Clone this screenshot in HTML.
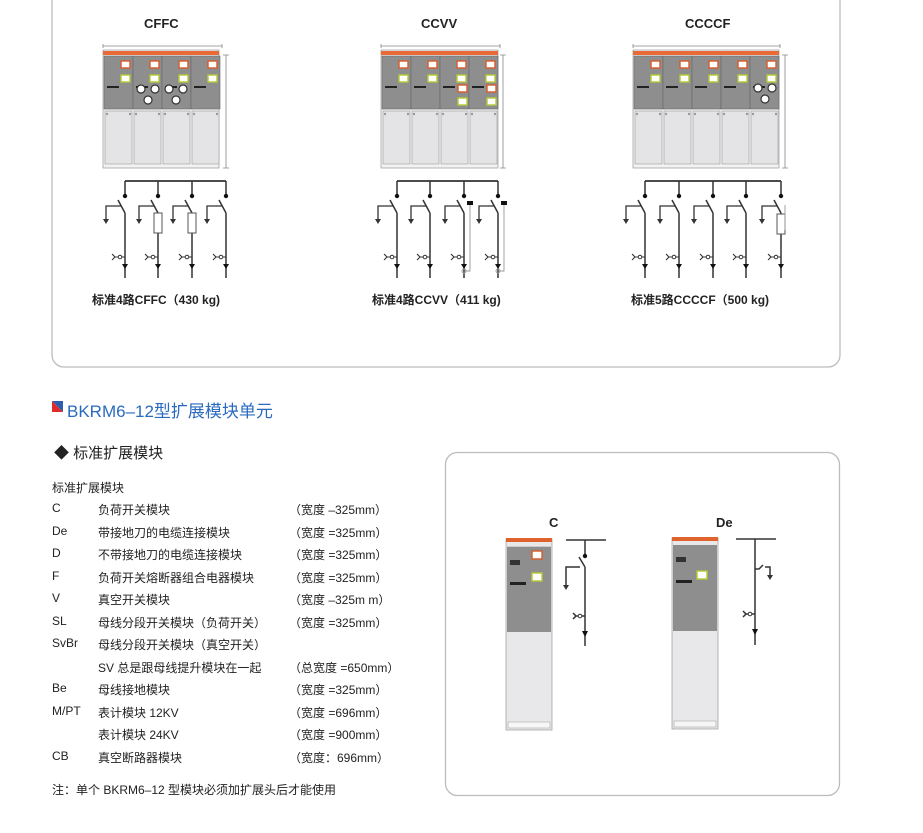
<!DOCTYPE html>
<html><head><meta charset="utf-8">
<style>
body{margin:0;width:923px;height:833px;background:#fff;position:relative;overflow:hidden;font-family:"Liberation Sans","Noto Sans CJK SC",sans-serif;color:#222}
.t{position:absolute;white-space:nowrap}
.b{font-weight:bold}
.r{position:absolute;font-size:12px;white-space:nowrap}
</style></head><body>
<svg width="923" height="833" style="position:absolute;left:0;top:0">
<defs>
<g id="fd" stroke="#333" stroke-width="1.5" fill="none">
<path d="M0,181V196M0,213L-7,200M0,213V278"/>
<circle cx="0" cy="196" r="2.2" fill="#111" stroke="none"/>
<path d="M-4,206H-19V220" stroke-width="1.3"/>
<path d="M-22,219h6l-3,5z" fill="#333" stroke="none"/>
<path d="M-13,254l3,3l-3,3M-10,257H0" stroke-width="1.1"/>
<circle cx="-5" cy="257" r="1.8" fill="#fff" stroke-width="1"/>
<path d="M-3,264h6l-3,5z" fill="#111" stroke="none"/>
</g>
<g id="col">
<rect x="0" y="0" width="29" height="53" fill="#8e8e8e" stroke="#666" stroke-width="0.6"/>
<rect x="1" y="55" width="27" height="53" fill="#e4e4e6" stroke="#999" stroke-width="0.6"/>
<rect x="17" y="5" width="9" height="7" fill="#fff" stroke="#d85a2a" stroke-width="1.4"/>
<rect x="17" y="19" width="9" height="7" fill="#fff" stroke="#b5c934" stroke-width="1.4"/>
<rect x="3" y="30" width="12" height="2" fill="#222"/>
<circle cx="3" cy="58" r="1.2" fill="#999"/><circle cx="26" cy="58" r="1.2" fill="#999"/>
</g>
</defs>
<!-- top box -->
<path d="M52,0V355a12,12 0 0 0 12,12H828a12,12 0 0 0 12,-12V0" fill="none" stroke="#bcbcbc" stroke-width="1.3"/>
<!-- CFFC cabinet -->
<g>
<path d="M103,46H222M103,44v4M222,44v4" stroke="#888" stroke-width="0.8"/>
<path d="M226,55V168M223,55h6M223,168h6" stroke="#888" stroke-width="0.8"/>
<rect x="103" y="50" width="116" height="118" fill="#f2f2f2" stroke="#999" stroke-width="0.7"/>
<rect x="103" y="51" width="116" height="4" fill="#ea6a35"/>
<use href="#col" x="104" y="56"/><use href="#col" x="133" y="56"/><use href="#col" x="162" y="56"/><use href="#col" x="191" y="56"/>
<g fill="#fff" stroke="#333" stroke-width="1.2"><circle cx="141" cy="89" r="4"/><circle cx="155" cy="89" r="4"/><circle cx="148" cy="100" r="4"/><circle cx="169" cy="89" r="4"/><circle cx="183" cy="89" r="4"/><circle cx="176" cy="100" r="4"/></g>
</g>
<!-- CCVV cabinet -->
<g>
<path d="M381,46H500M381,44v4M500,44v4" stroke="#888" stroke-width="0.8"/>
<path d="M503,55V168M500,55h6M500,168h6" stroke="#888" stroke-width="0.8"/>
<rect x="381" y="50" width="117" height="118" fill="#f2f2f2" stroke="#999" stroke-width="0.7"/>
<rect x="381" y="51" width="117" height="4" fill="#ea6a35"/>
<use href="#col" x="382" y="56"/><use href="#col" x="411" y="56"/><use href="#col" x="440" y="56"/><use href="#col" x="469" y="56"/>
<rect x="458" y="85" width="9" height="7" fill="#fff" stroke="#d85a2a" stroke-width="1.4"/><rect x="487" y="85" width="9" height="7" fill="#fff" stroke="#d85a2a" stroke-width="1.4"/>
<rect x="458" y="98" width="9" height="7" fill="#fff" stroke="#b5c934" stroke-width="1.4"/><rect x="487" y="98" width="9" height="7" fill="#fff" stroke="#b5c934" stroke-width="1.4"/>
</g>
<!-- CCCCF cabinet -->
<g>
<path d="M633,46H780M633,44v4M780,44v4" stroke="#888" stroke-width="0.8"/>
<path d="M785,55V168M782,55h6M782,168h6" stroke="#888" stroke-width="0.8"/>
<rect x="633" y="50" width="146" height="118" fill="#f2f2f2" stroke="#999" stroke-width="0.7"/>
<rect x="633" y="51" width="146" height="4" fill="#ea6a35"/>
<use href="#col" x="634" y="56"/><use href="#col" x="663" y="56"/><use href="#col" x="692" y="56"/><use href="#col" x="721" y="56"/><use href="#col" x="750" y="56"/>
<g fill="#fff" stroke="#333" stroke-width="1.2"><circle cx="758" cy="88" r="4"/><circle cx="772" cy="88" r="4"/><circle cx="765" cy="99" r="4"/></g>
</g>
<!-- schematics -->
<g stroke="#333" stroke-width="1.8"><path d="M125,181H226M397,181H498M645,181H781"/></g>
<use href="#fd" x="125"/><use href="#fd" x="158"/><use href="#fd" x="192"/><use href="#fd" x="226"/>
<use href="#fd" x="397"/><use href="#fd" x="430"/><use href="#fd" x="464"/><use href="#fd" x="498"/>
<use href="#fd" x="645"/><use href="#fd" x="679"/><use href="#fd" x="713"/><use href="#fd" x="746"/><use href="#fd" x="781"/>
<g fill="#fff" stroke="#555" stroke-width="1"><rect x="154" y="213" width="8" height="20"/><rect x="188" y="213" width="8" height="20"/><rect x="777" y="214" width="8" height="20"/></g>
<g fill="#fff" stroke="none"><rect x="155" y="214" width="6" height="18"/><rect x="189" y="214" width="6" height="18"/><rect x="778" y="215" width="6" height="18"/></g>
<g fill="#111"><rect x="467" y="201" width="6" height="4"/><rect x="501" y="201" width="6" height="4"/></g>
<g stroke="#999" fill="none" stroke-width="0.9"><path d="M470,205V271H465M504,205V271H499M785,205V230"/>
<circle cx="464" cy="271" r="2"/><circle cx="498" cy="271" r="2"/></g>
<!-- right box -->
<rect x="445.5" y="452.5" width="394" height="343" rx="12" fill="none" stroke="#bcbcbc" stroke-width="1.3"/>
<!-- C cabinet -->
<rect x="506" y="539" width="46" height="191" fill="#e8e8ea" stroke="#999" stroke-width="0.7"/>
<rect x="506" y="538" width="46" height="4" fill="#e0622c"/>
<rect x="507" y="546" width="44" height="86" fill="#8e8e8e"/>
<rect x="507" y="546" width="44" height="1" fill="#ccc"/>
<rect x="532" y="551" width="10" height="8" fill="#fff" stroke="#d85a2a" stroke-width="1.4"/>
<rect x="532" y="573" width="10" height="8" fill="#fff" stroke="#b5c934" stroke-width="1.4"/>
<rect x="510" y="560" width="10" height="5" fill="#333"/><rect x="510" y="582" width="16" height="3" fill="#222"/>
<rect x="508" y="722" width="42" height="6" fill="#f6f6f6" stroke="#aaa" stroke-width="0.6"/>
<!-- De cabinet -->
<rect x="672" y="538" width="46" height="191" fill="#e8e8ea" stroke="#999" stroke-width="0.7"/>
<rect x="672" y="537" width="46" height="4" fill="#e0622c"/>
<rect x="673" y="545" width="44" height="86" fill="#8e8e8e"/>
<rect x="697" y="571" width="10" height="8" fill="#fff" stroke="#b5c934" stroke-width="1.4"/>
<rect x="676" y="557" width="10" height="5" fill="#333"/><rect x="676" y="580" width="16" height="3" fill="#222"/>
<rect x="674" y="721" width="42" height="6" fill="#f6f6f6" stroke="#aaa" stroke-width="0.6"/>
<!-- C schematic -->
<g stroke="#333" stroke-width="1.5" fill="none">
<path d="M566,540H606M585,540V556M585,567L579,557M585,567V646"/>
<path d="M580,567H566V585"/><path d="M-13,0" />
<path d="M573,613l3,3l-3,3M576,616H585"/>
</g>
<circle cx="585" cy="556" r="2.2" fill="#111"/>
<path d="M563,585h6l-3,5z" fill="#333"/><circle cx="580" cy="616" r="1.8" fill="#fff" stroke="#333"/>
<path d="M582,631h6l-3,6z" fill="#111"/>
<!-- De schematic -->
<g stroke="#333" stroke-width="1.5" fill="none">
<path d="M736,539H776M755,539V645M755,569h4l4,-4M765,567h5V575"/>
<path d="M743,611l3,3l-3,3M746,614H755"/>
</g>
<path d="M767,575h6l-3,5z" fill="#333"/><circle cx="750" cy="614" r="1.8" fill="#fff" stroke="#333"/>
<path d="M752,629h6l-3,6z" fill="#111"/>
<!-- heading icon -->
<path d="M52,401h11v11z" fill="#2a5fb0"/><path d="M52,412v-11l11,11z" fill="#e02b2b"/>
</svg>

<div class="t b" style="left:144px;top:16px;font-size:13px">CFFC</div>
<div class="t b" style="left:421px;top:16px;font-size:13px">CCVV</div>
<div class="t b" style="left:685px;top:16px;font-size:13px">CCCCF</div>
<div class="t b" style="left:92px;top:291px;font-size:12px">标准4路CFFC（430 kg)</div>
<div class="t b" style="left:372px;top:291px;font-size:12px">标准4路CCVV（411 kg)</div>
<div class="t b" style="left:631px;top:291px;font-size:12px">标准5路CCCCF（500 kg)</div>

<div class="t" style="left:67px;top:397px;font-size:17px;color:#2a6bbf">BKRM6–12型扩展模块单元</div>
<div class="t" style="left:54px;top:442px;font-size:15px">◆ 标准扩展模块</div>

<div class="r" style="left:52px;top:479px">标准扩展模块</div>
<div class="r" style="left:52px;top:501px">C</div><div class="r" style="left:98px;top:501px">负荷开关模块</div><div class="r" style="left:289px;top:501px">（宽度 –325mm）</div>
<div class="r" style="left:52px;top:524px">De</div><div class="r" style="left:98px;top:524px">带接地刀的电缆连接模块</div><div class="r" style="left:289px;top:524px">（宽度 =325mm）</div>
<div class="r" style="left:52px;top:546px">D</div><div class="r" style="left:98px;top:546px">不带接地刀的电缆连接模块</div><div class="r" style="left:289px;top:546px">（宽度 =325mm）</div>
<div class="r" style="left:52px;top:569px">F</div><div class="r" style="left:98px;top:569px">负荷开关熔断器组合电器模块</div><div class="r" style="left:289px;top:569px">（宽度 =325mm）</div>
<div class="r" style="left:52px;top:591px">V</div><div class="r" style="left:98px;top:591px">真空开关模块</div><div class="r" style="left:289px;top:591px">（宽度 –325m m）</div>
<div class="r" style="left:52px;top:614px">SL</div><div class="r" style="left:98px;top:614px">母线分段开关模块（负荷开关）</div><div class="r" style="left:289px;top:614px">（宽度 =325mm）</div>
<div class="r" style="left:52px;top:636px">SvBr</div><div class="r" style="left:98px;top:636px">母线分段开关模块（真空开关）</div>
<div class="r" style="left:98px;top:659px">SV 总是跟母线提升模块在一起</div><div class="r" style="left:289px;top:659px">（总宽度 =650mm）</div>
<div class="r" style="left:52px;top:681px">Be</div><div class="r" style="left:98px;top:681px">母线接地模块</div><div class="r" style="left:289px;top:681px">（宽度 =325mm）</div>
<div class="r" style="left:52px;top:704px">M/PT</div><div class="r" style="left:98px;top:704px">表计模块 12KV</div><div class="r" style="left:289px;top:704px">（宽度 =696mm）</div>
<div class="r" style="left:98px;top:726px">表计模块 24KV</div><div class="r" style="left:289px;top:726px">（宽度 =900mm）</div>
<div class="r" style="left:52px;top:749px">CB</div><div class="r" style="left:98px;top:749px">真空断路器模块</div><div class="r" style="left:289px;top:749px">（宽度：696mm）</div>
<div class="r" style="left:52px;top:781px">注：单个 BKRM6–12 型模块必须加扩展头后才能使用</div>

<div class="t b" style="left:549px;top:515px;font-size:13px">C</div>
<div class="t b" style="left:716px;top:515px;font-size:13px">De</div>
</body></html>
